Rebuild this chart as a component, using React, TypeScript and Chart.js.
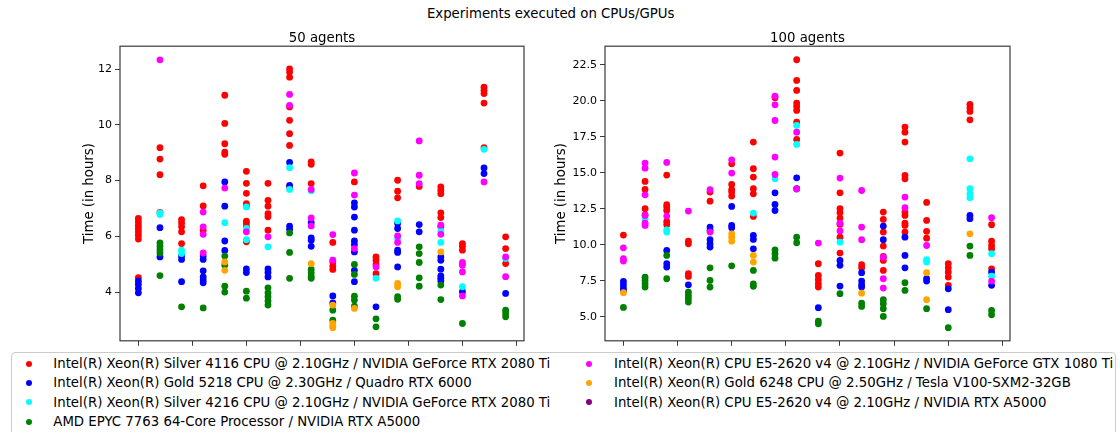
import React, { useEffect, useRef } from "react";
import { Chart, registerables } from "chart.js";

Chart.register(...registerables);

const FONT = "'DejaVu Sans', 'Liberation Sans', sans-serif";
const BIG = 13.3;

const suptitle = "Experiments executed on CPUs/GPUs";
const panelTitles = ["50 agents", "100 agents"];
const yAxisTitle = "Time (in hours)";

const seriesLabels = [
  "Intel(R) Xeon(R) Silver 4116 CPU @ 2.10GHz / NVIDIA GeForce RTX 2080 Ti",
  "Intel(R) Xeon(R) Gold 5218 CPU @ 2.30GHz / Quadro RTX 6000",
  "Intel(R) Xeon(R) Silver 4216 CPU @ 2.10GHz / NVIDIA GeForce RTX 2080 Ti",
  "AMD EPYC 7763 64-Core Processor / NVIDIA RTX A5000",
  "Intel(R) Xeon(R) CPU E5-2620 v4 @ 2.10GHz / NVIDIA GeForce GTX 1080 Ti",
  "Intel(R) Xeon(R) Gold 6248 CPU @ 2.50GHz / Tesla V100-SXM2-32GB",
  "Intel(R) Xeon(R) CPU E5-2620 v4 @ 2.10GHz / NVIDIA RTX A5000",
];
const seriesColors = ["#ff0000", "#0000ff", "#00ffff", "#008000", "#ff00ff", "#ffa500", "#800080"];

const xTicks = [0, 2.5, 5, 7.5, 10, 12.5, 15, 17.5];
const yTicks50 = [4, 6, 8, 10, 12];
const yTicks100 = [5, 7.5, 10, 12.5, 15, 17.5, 20, 22.5];

// ---- 50 agents: values per experiment column (0..17) ----
const red50: number[][] = [
  [6.64, 6.52, 6.4, 6.28, 6.16, 6.04, 5.9, 4.52],
  [9.18, 8.77, 8.21, 6.86],
  [6.6, 6.48, 6.34, 6.16, 5.74],
  [7.81, 7.09, 6.22],
  [11.06, 10.05, 9.32, 9.02, 8.94],
  [8.33, 7.9, 7.54, 7.17, 7.08, 6.54, 6.46, 6.34, 5.8],
  [7.9, 7.29, 7.08, 6.81, 6.7, 6.22],
  [12.01, 11.89, 11.71, 10.64, 10.16, 9.68, 9.26, 7.77],
  [8.67, 8.58, 7.89],
  [5.78, 5.08, 4.93, 4.81],
  [7.95],
  [5.26, 5.14, 4.99, 4.66],
  [8.01, 7.62, 7.38],
  [7.79],
  [7.77, 7.65, 7.53, 6.84, 6.67, 6.34],
  [5.74, 5.64, 5.5],
  [11.35, 11.24, 11.12, 10.78, 9.18],
  [5.98, 5.56, 5.02],
];
const blue50: number[][] = [
  [4.4, 4.28, 4.13, 3.97],
  [6.31, 5.26],
  [5.29, 5.17, 4.37],
  [5.29, 5.17, 4.76, 4.54, 4.43, 4.33],
  [7.95, 7.08, 5.83, 5.49],
  [4.83, 4.7],
  [4.83, 4.7, 4.54],
  [8.65, 7.83, 6.36, 6.25],
  [6.49, 5.94, 5.86, 5.64],
  [3.86, 3.61],
  [7.2, 7.05, 6.69, 6.22, 5.83, 5.7, 5.44, 4.78, 4.37],
  [3.47],
  [6.46, 6.28, 5.5, 5.42, 4.9],
  [6.42, 6.16],
  [5.26, 5.14, 4.82, 4.58, 4.49, 4.4],
  [4.01],
  [8.45, 8.25],
  [3.95],
];
const cyan50: number[][] = [
  [], [6.84, 6.78], [5.5, 5.38], [], [6.49], [7.05, 6.28, 5.88], [5.62], [8.46, 7.68], [7.63],
  [], [], [4.49], [6.55, 5.92], [], [6.19, 5.78], [4.19], [9.12], [5.2],
];
const green50: number[][] = [
  [], [5.76, 5.64, 5.52, 5.4, 4.59], [3.47], [3.43], [5.29, 4.96, 4.21, 4.0], [4.03, 3.78],
  [4.15, 3.97, 3.83, 3.68, 3.53], [6.12, 5.42, 4.49], [4.81, 4.69, 4.57, 4.49], [3.35, 2.99],
  [4.99, 4.63, 3.85, 3.71, 3.49], [3.04, 2.75], [3.83, 3.74], [5.62, 5.38, 5.06, 4.51, 4.21],
  [4.25, 3.73], [2.87], [], [3.35, 3.23, 3.11],
];
const magenta50: number[][] = [
  [], [12.33], [], [6.87, 6.34, 6.07, 5.4], [7.73], [6.16], [5.98], [11.09, 10.7], [7.68, 6.66, 6.37],
  [6.06, 5.14], [8.27, 7.48, 5.56], [4.9], [6.01, 5.78], [9.42, 8.19, 7.89], [6.4, 6.07],
  [5.06, 4.96, 4.72, 3.86], [7.95], [5.26, 4.55],
];
const orange50: number[][] = [
  [], [], [], [], [5.08, 4.78], [], [], [], [5.02], [3.53, 2.87, 2.78, 2.72], [3.41], [],
  [4.31, 4.19], [], [5.44], [], [], [],
];
const purple50: number[][] = [];

// ---- 100 agents ----
const red100: number[][] = [
  [10.67],
  [14.4, 13.84, 12.5, 12.08],
  [14.84, 12.78, 12.62, 12.38, 11.62, 11.39],
  [10.25, 10.07, 7.99, 7.8],
  [13.66, 13.03],
  [15.62, 14.19, 13.82, 13.66, 13.38],
  [17.13, 15.28, 14.7, 13.89, 13.54, 11.97],
  [20.21],
  [22.85, 21.41, 20.72, 19.84, 19.61, 19.33, 18.52, 17.31],
  [8.68, 7.87, 7.57, 7.29, 7.06],
  [16.37, 13.61, 12.5, 12.22, 11.85, 11.41, 10.53, 9.42],
  [8.61, 8.4],
  [12.27, 11.76, 10.88, 9.91, 9.19, 8.91, 8.22],
  [18.17, 17.82, 17.13, 14.81, 14.58, 12.27, 12.04, 11.5, 11.34, 10.88],
  [12.94, 11.69, 10.93, 10.46],
  [8.68, 8.4, 8.1, 7.76, 7.18],
  [19.75, 19.51, 19.26, 18.68],
  [11.39, 10.25, 9.95, 9.72, 8.33],
];
const blue100: number[][] = [
  [7.45, 7.22, 6.99, 6.83],
  [],
  [9.61, 8.68, 8.45],
  [7.22],
  [11.23, 11.0, 10.35, 10.07, 9.84],
  [12.66, 11.34, 11.18],
  [10.65, 10.37, 9.72],
  [13.61, 12.8, 12.38],
  [14.65, 13.89],
  [5.63],
  [8.91, 8.57, 7.13],
  [8.06, 7.48, 7.22, 7.06],
  [11.3, 10.35],
  [10.53, 9.26, 8.4],
  [7.64, 7.48],
  [6.94, 5.49],
  [12.04, 11.81],
  [8.1, 7.18],
];
const cyan100: number[][] = [
  [], [11.8], [11.04, 10.88], [], [], [], [12.2], [14.58], [18.29, 16.97], [], [10.18], [], [], [],
  [8.96, 8.8], [], [15.97, 13.89, 13.54, 13.26], [9.38, 7.82],
];
const green100: number[][] = [
  [5.65], [7.75, 7.52, 7.29, 7.06], [9.26, 7.64], [6.71, 6.48, 6.25, 6.02], [8.4, 7.52, 7.06], [8.54],
  [8.22, 7.29, 7.11], [9.65, 9.38, 9.07], [10.53, 10.14], [4.7, 4.51], [6.6], [5.95, 5.72],
  [6.18, 5.91, 5.56, 5.02], [7.36, 6.83], [5.56], [4.24], [9.91, 9.26], [5.44, 5.14],
];
const magenta100: number[][] = [
  [9.79, 9.03, 8.87], [15.67, 15.32, 13.47, 12.04, 11.5, 11.34], [15.72, 11.99], [12.34], [13.82, 10.88],
  [15.9, 14.98], [], [20.32, 19.72, 18.63, 16.09, 14.88], [17.82, 13.87], [10.12], [14.63, 11.5, 10.96],
  [13.77, 11.23, 10.35], [9.14, 7.64, 6.99], [13.31, 12.57], [9.95], [], [], [11.88, 7.48],
];
const orange100: number[][] = [
  [6.67], [], [], [], [], [10.76, 10.53, 10.25], [9.26, 8.8], [], [], [], [], [6.64], [], [],
  [8.06, 6.18], [], [10.76], [],
];
const purple100: number[][] = [];

const series50 = [red50, blue50, cyan50, green50, magenta50, orange50, purple50];
const series100 = [red100, blue100, cyan100, green100, magenta100, orange100, purple100];

function toPoints(cols: number[][]) {
  return cols.flatMap((vals, i) => vals.map((v) => ({ x: i, y: v })));
}

const framePlugin = {
  id: "frame",
  afterDatasetsDraw(chart: any) {
    const { ctx, chartArea: a } = chart;
    ctx.save();
    ctx.strokeStyle = "#3a3a3a";
    ctx.lineWidth = 1.2;
    ctx.strokeRect(a.left, a.top, a.right - a.left, a.bottom - a.top);
    ctx.restore();
  },
};

type PanelProps = {
  left: number;
  width: number;
  height: number;
  title: string;
  series: number[][][];
  yMin: number;
  yMax: number;
  yTicks: number[];
  decimals: number;
  yWidth: number;
  yTitlePad: number;
  padRight: number;
};

function Panel(p: PanelProps) {
  const ref = useRef<HTMLCanvasElement>(null);
  useEffect(() => {
    const chart = new Chart(ref.current as HTMLCanvasElement, {
      type: "scatter",
      data: {
        datasets: p.series.map((s, i) => ({
          label: seriesLabels[i],
          data: toPoints(s),
          backgroundColor: seriesColors[i],
          borderColor: seriesColors[i],
          borderWidth: 0,
          pointRadius: 3.4,
          pointHoverRadius: 3.4,
          order: p.series.length - i,
        })),
      },
      options: {
        animation: false,
        responsive: false,
        events: [],
        layout: { padding: { left: 0, right: p.padRight, top: 0, bottom: 0 } },
        plugins: {
          legend: { display: false },
          tooltip: { enabled: false },
          title: {
            display: true,
            text: p.title,
            fullSize: false,
            color: "#000",
            font: { family: FONT, size: BIG, weight: "normal", lineHeight: 1 },
            padding: { top: 32.05, bottom: 0.85 },
          },
        },
        scales: {
          x: {
            type: "linear",
            min: -0.85,
            max: 17.85,
            afterBuildTicks: (s: any) => {
              s.ticks = xTicks.map((v) => ({ value: v }));
            },
            afterFit: (s: any) => {
              s.height = p.height - 340.8;
            },
            ticks: { display: false },
            grid: { drawOnChartArea: false, drawTicks: true, tickLength: 5, color: "#3a3a3a", lineWidth: 1 },
            border: { display: false },
          },
          y: {
            type: "linear",
            min: p.yMin,
            max: p.yMax,
            afterBuildTicks: (s: any) => {
              s.ticks = p.yTicks.map((v) => ({ value: v }));
            },
            afterFit: (s: any) => {
              s.width = p.yWidth;
            },
            ticks: {
              color: "#000",
              font: { family: FONT, size: 11 },
              padding: 3,
              callback: (v: any) => Number(v).toFixed(p.decimals),
            },
            title: {
              display: true,
              text: yAxisTitle,
              color: "#000",
              font: { family: FONT, size: BIG, lineHeight: 1.2 },
              padding: { top: p.yTitlePad, bottom: 0 },
            },
            grid: { drawOnChartArea: false, drawTicks: true, tickLength: 5, color: "#3a3a3a", lineWidth: 1 },
            border: { display: false },
          },
        },
      } as any,
      plugins: [framePlugin],
    });
    return () => chart.destroy();
  }, []);
  return (
    <canvas
      ref={ref}
      width={p.width}
      height={p.height}
      style={{ position: "absolute", left: p.left, top: 0, width: p.width, height: p.height }}
    />
  );
}

export default function App() {
  const legendCols = [
    { marker: 28.7, text: 53.3 },
    { marker: 589.3, text: 614 },
  ];
  return (
    <div
      style={{
        position: "absolute",
        left: 0,
        top: 0,
        width: 1119,
        height: 432,
        overflow: "hidden",
        background: "#fff",
        fontFamily: FONT,
        color: "#000",
      }}
    >
      <div
        style={{
          position: "absolute",
          left: 550.7,
          top: 5.7,
          transform: "translateX(-50%)",
          whiteSpace: "nowrap",
          fontSize: BIG,
          lineHeight: "16px",
        }}
      >
        {suptitle}
      </div>
      <Panel
        left={0}
        width={560}
        height={365}
        title={panelTitles[0]}
        series={series50}
        yMin={2.25}
        yMax={12.82}
        yTicks={yTicks50}
        decimals={0}
        yWidth={120}
        yTitlePad={82.02}
        padRight={36}
      />
      <Panel
        left={540}
        width={579}
        height={365}
        title={panelTitles[1]}
        series={series100}
        yMin={3.33}
        yMax={23.79}
        yTicks={yTicks100}
        decimals={1}
        yWidth={65}
        yTitlePad={13.72}
        padRight={109}
      />
      <div
        style={{
          position: "absolute",
          left: 10.7,
          top: 352.3,
          width: 1105.3,
          height: 120,
          border: "1px solid #cccccc",
          borderRadius: 4,
          background: "#fff",
          boxSizing: "border-box",
        }}
      />
      {seriesLabels.map((label, i) => {
        const col = i < 4 ? 0 : 1;
        const row = i < 4 ? i : i - 4;
        const c = legendCols[col];
        const top = 354.1 + row * 19.2;
        return (
          <React.Fragment key={label}>
            <div
              style={{
                position: "absolute",
                left: c.marker - 3,
                top: top + 9.9 - 3,
                width: 6,
                height: 6,
                borderRadius: "50%",
                background: seriesColors[i],
              }}
            />
            <div
              style={{
                position: "absolute",
                left: c.text,
                top,
                whiteSpace: "nowrap",
                fontSize: BIG,
                lineHeight: "19.2px",
              }}
            >
              {label}
            </div>
          </React.Fragment>
        );
      })}
    </div>
  );
}
